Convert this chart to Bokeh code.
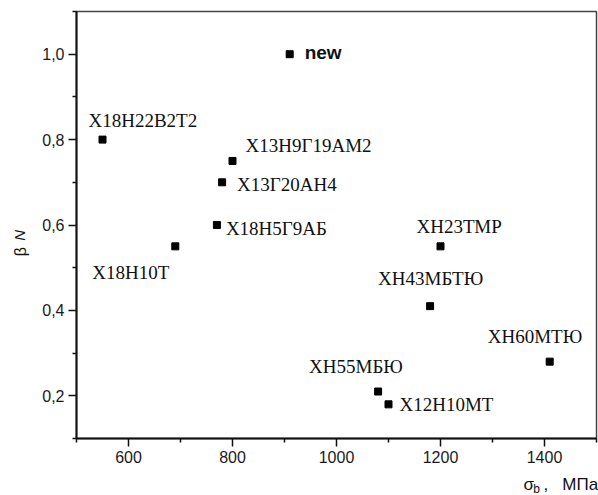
import math
from bokeh.plotting import figure
from bokeh.models import FixedTicker, LinearAxis, Range1d
from bokeh.core.properties import value
from bokeh.embed import file_html
from bokeh.resources import INLINE

# ---- data ----
names = ["Х18Н22В2Т2", "Х13Н9Г19АМ2", "Х13Г20АН4", "Х18Н5Г9АБ", "Х18Н10Т",
         "ХН23ТМР", "ХН43МБТЮ", "ХН60МТЮ", "ХН55МБЮ", "Х12Н10МТ"]
sigma = [550, 800, 780, 770, 690, 1200, 1180, 1410, 1080, 1100]
beta = [0.80, 0.75, 0.70, 0.60, 0.55, 0.55, 0.41, 0.28, 0.21, 0.18]
new_name = ["new"]
new_sigma = [910]
new_beta = [1.0]
x_ticks = [600, 800, 1000, 1200, 1400]
x_minor = [500, 700, 900, 1100, 1300, 1500]
y_ticks = [0.2, 0.4, 0.6, 0.8, 1.0]
y_minor = [0.1, 0.3, 0.5, 0.7, 0.9, 1.1]
y_tick_labels = ["0,2", "0,4", "0,6", "0,8", "1,0"]
x_title = ("σ", "b", ",", "МПа")
y_title = ("β", "N")

# ---- label placement (screen px, relative to the point; anchor = left/bottom) ----
label_dx = [-14, 13, 15, 9, -83, -24, -52, -62, -69, 11]
label_dy = [-9, -5, 13, 14, 37, -9, -17, -15, -15, 11]

NB = "\u00a0"

p = figure(frame_width=520, frame_height=427, output_backend="svg",
           toolbar_location=None,
           x_range=Range1d(500, 1500), y_range=Range1d(0.1, 1.1),
           min_border_left=76, min_border_right=2, min_border_top=11,
           min_border_bottom=57)
p.grid.visible = False
p.outline_line_color = "#444444"
p.outline_line_width = 1.5

p.xaxis.ticker = FixedTicker(ticks=x_ticks, minor_ticks=x_minor)
p.yaxis.ticker = FixedTicker(ticks=y_ticks, minor_ticks=y_minor)
p.yaxis.major_label_overrides = {t: l for t, l in zip(y_ticks, y_tick_labels)}
for ax in (p.xaxis, p.yaxis):
    ax.axis_line_width = 2
    ax.axis_line_color = "#111111"
    ax.major_tick_out = 8
    ax.major_tick_in = 0
    ax.minor_tick_out = 4
    ax.minor_tick_in = 0
    ax.major_tick_line_width = 1.5
    ax.minor_tick_line_width = 1.5
    ax.major_tick_line_color = "#111111"
    ax.minor_tick_line_color = "#111111"
    ax.major_label_text_font = "Liberation Sans"
    ax.major_label_text_font_size = "16px"
    ax.major_label_text_color = "#1a1a1a"
    ax.axis_label_text_font = "Liberation Sans"
    ax.axis_label_text_font_style = "normal"
    ax.axis_label_text_color = "#111111"
p.xaxis.major_label_standoff = 4
p.yaxis.major_label_standoff = 4

# x title (centered label, pushed right with leading no-break spaces)
p.xaxis.axis_label = (NB * 95 + x_title[0] + NB + NB + x_title[2]
                      + NB * 3 + x_title[3])
p.xaxis.axis_label_text_font_size = "17px"
p.xaxis.axis_label_standoff = 9

def empty_axis(label, size, style, standoff):
    return LinearAxis(ticker=FixedTicker(ticks=[]), axis_line_color=None,
                      major_tick_line_color=None, minor_tick_line_color=None,
                      major_label_text_font_size="0px",
                      axis_label=label, axis_label_text_font="Liberation Sans",
                      axis_label_text_font_size=size,
                      axis_label_text_font_style=style,
                      axis_label_text_color="#111111",
                      axis_label_standoff=standoff)

# subscript of the x title
p.add_layout(empty_axis(NB * 120 + x_title[1], "12px", "normal", -15), "below")

# y title
p.yaxis.axis_label = y_title[0] + NB * 12
p.yaxis.axis_label_text_font_size = "16px"
p.yaxis.axis_label_standoff = 10
p.add_layout(empty_axis(y_title[1] + NB * 5, "15px", "italic", -18), "left")

p.scatter(sigma, beta, marker="square", size=7, color="black")
p.text(sigma, beta, text=names, x_offset=label_dx, y_offset=label_dy,
       text_font=value("Liberation Serif"), text_font_size="19px",
       text_font_style="normal", text_color="#111111")

p.scatter(new_sigma, new_beta, marker="square", size=7, color="black")
p.text(new_sigma, new_beta, text=new_name, x_offset=15, y_offset=-2,
       text_font=value("Liberation Sans"), text_font_size="19px",
       text_font_style="bold", text_color="#111111",
       text_align="left", text_baseline="middle")

open("out.html", "w").write(file_html(p, INLINE))
